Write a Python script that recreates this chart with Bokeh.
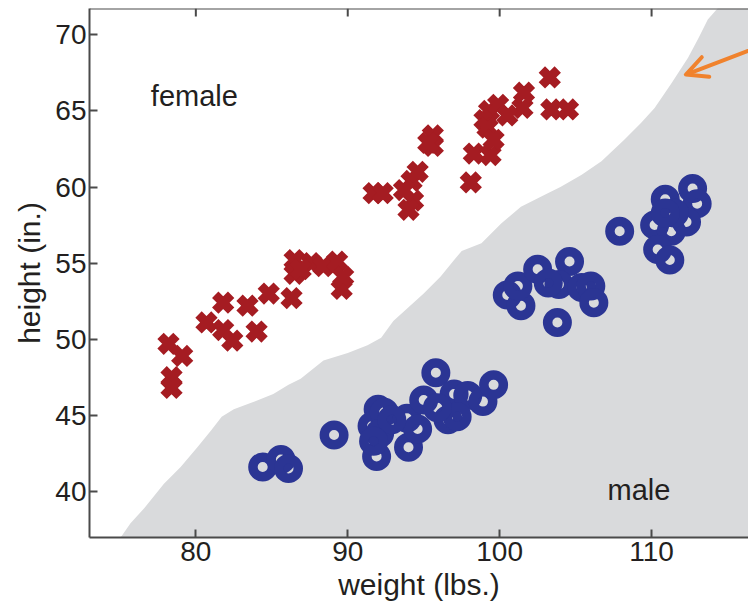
from bokeh.plotting import figure
from bokeh.models import FixedTicker, Label, Arrow, OpenHead, Span
from bokeh.embed import file_html
from bokeh.resources import INLINE

# ---- data ----
female_weight = [78.2, 79.1, 78.4, 78.4,
                 80.7, 81.8, 81.8, 82.4, 83.4, 84.0, 84.8, 86.3, 86.5, 86.5,
                 87.6, 86.9, 88.4, 89.3, 89.6, 89.7,
                 91.7, 92.3, 94.2, 94.3, 94.0, 94.6, 93.7, 95.6, 95.6, 95.3,
                 98.1, 98.3, 99.4, 99.0, 99.3, 99.9, 101.5, 100.5, 99.2,
                 101.6, 103.3, 103.4, 104.5, 99.6]
female_height = [49.7, 48.9, 47.5, 46.8,
                 51.1, 52.4, 50.6, 49.9, 52.2, 50.5, 53.0, 52.7, 55.2, 54.3,
                 55.0, 54.6, 54.8, 55.1, 53.3, 54.1,
                 59.6, 59.6, 60.4, 59.1, 58.5, 61.0, 59.8, 63.4, 62.7, 62.9,
                 60.3, 62.2, 62.1, 64.4, 65.0, 65.4, 65.2, 64.7, 63.9,
                 66.2, 67.2, 65.1, 65.1, 63.1]

male_weight = [84.4, 85.6, 86.1, 89.1, 91.9, 92.0, 91.6, 92.4, 92.1, 94.0,
               93.9, 94.6, 95.0, 95.8, 96.6, 97.0, 97.9, 98.9, 99.6, 97.2,
               95.9, 92.9, 91.7,
               100.5, 101.4, 101.2, 102.5, 104.6, 103.9, 105.4, 106.0, 106.2,
               103.8, 103.2, 107.9, 110.2, 110.9, 111.3, 110.4, 111.2, 112.7,
               113.0, 112.3, 111.5, 110.9]
male_height = [41.6, 42.1, 41.5, 43.7, 42.3, 45.4, 44.3, 45.2, 43.8, 42.9,
               44.8, 44.1, 46.0, 47.8, 44.7, 46.4, 46.3, 45.9, 47.0, 44.9,
               45.5, 44.7, 43.3,
               52.9, 52.2, 53.5, 54.6, 55.1, 53.6, 53.4, 53.5, 52.4,
               51.1, 53.7, 57.1, 57.5, 59.2, 57.1, 55.9, 55.2, 59.9,
               58.9, 57.7, 58.3, 58.3]

boundary_weight = [75.0, 75.7, 76.6, 77.9, 79.0, 80.1, 81.0, 81.7, 82.5, 83.6,
                   85.1, 86.1, 86.9, 88.4, 90.0, 91.3, 92.2, 93.0, 94.0, 95.0,
                   96.1, 97.0, 97.5, 98.8, 100.1, 101.4, 103.2, 104.0, 105.4,
                   106.7, 108.2, 109.3, 110.2, 111.3, 112.4, 113.1, 113.7, 114.4]
boundary_height = [36.9, 37.9, 38.9, 40.5, 41.6, 42.9, 44.0, 44.9, 45.4, 45.8,
                   46.4, 47.0, 47.4, 48.6, 49.1, 49.6, 50.1, 51.2, 52.1, 53.0,
                   54.1, 55.2, 55.8, 56.3, 57.6, 58.7, 59.6, 60.0, 60.8,
                   61.7, 63.1, 64.2, 65.2, 66.8, 68.5, 69.8, 71.0, 71.8]

x_ticks = [80, 90, 100, 110]
y_ticks = [40, 45, 50, 55, 60, 65, 70]
x_limits = (73.0, 116.38)
y_limits = (36.97, 71.73)

FONT = "Liberation Sans"
AXIS_COLOR = "#4a4a4a"
TEXT_COLOR = "#231f20"
FRAME_H = 529
PX_PER_Y = FRAME_H / (y_limits[1] - y_limits[0])

p = figure(frame_width=659, frame_height=FRAME_H,
           x_range=x_limits, y_range=y_limits,
           output_backend="svg", toolbar_location=None,
           min_border_left=89, min_border_top=8, min_border_right=0,
           min_border_bottom=0)
p.outline_line_color = None
p.grid.visible = False
p.background_fill_color = "white"

# gray region (male side of the decision boundary)
gx = boundary_weight + [x_limits[1] + 5, x_limits[1] + 5]
gy = boundary_height + [y_limits[1] + 1, y_limits[0] - 1]
p.patch(gx, gy, fill_color="#d9dadc", line_color=None)

# female: thick x markers
p.scatter(female_weight, female_height, marker="x", size=22.5,
          line_color="#a51c22", line_width=9)
# male: thick hollow circles
p.scatter(male_weight, male_height, marker="circle", size=19.5,
          fill_color=None, line_color="#2b3594", line_width=9.5)

def style_axis(ax, ticks):
    ax.ticker = FixedTicker(ticks=ticks)
    ax.minor_tick_line_color = None
    ax.major_tick_in = 8
    ax.major_tick_out = 0
    ax.axis_line_width = 2
    ax.axis_line_color = AXIS_COLOR
    ax.major_tick_line_width = 2
    ax.major_tick_line_color = AXIS_COLOR
    ax.major_label_text_font = FONT
    ax.major_label_text_font_size = "28px"
    ax.major_label_text_color = TEXT_COLOR
    ax.axis_label_text_font = FONT
    ax.axis_label_text_font_size = "30px"
    ax.axis_label_text_font_style = "normal"
    ax.axis_label_text_color = TEXT_COLOR

style_axis(p.xaxis[0], x_ticks)
style_axis(p.yaxis[0], y_ticks)
p.xaxis[0].axis_label = "weight (lbs.)"
p.yaxis[0].axis_label = "height (in.)"
p.xaxis[0].major_label_standoff = 4
p.xaxis[0].axis_label_standoff = 4
p.yaxis[0].major_label_standoff = 3
p.yaxis[0].axis_label_standoff = 6

# top border of the frame with inward ticks (8 px long)
p.add_layout(Span(location=y_limits[1], dimension="width",
                  line_color=AXIS_COLOR, line_width=2))
tick_len = 8 / PX_PER_Y
p.segment(x0=x_ticks, y0=[y_limits[1]] * len(x_ticks),
          x1=x_ticks, y1=[y_limits[1] - tick_len] * len(x_ticks),
          line_color=AXIS_COLOR, line_width=2)

p.add_layout(Label(x=77.04, y=65.95, text="female", text_font=FONT,
                   text_font_size="29px", text_color=TEXT_COLOR,
                   text_align="left", text_baseline="alphabetic"))
p.add_layout(Label(x=107.1, y=40.06, text="male", text_font=FONT,
                   text_font_size="29px", text_color=TEXT_COLOR,
                   text_align="left", text_baseline="alphabetic"))

p.add_layout(Arrow(x_start=117.52, y_start=69.40, x_end=112.26, y_end=67.39,
                   line_color="#f0822d", line_width=4, line_cap="round",
                   end=OpenHead(size=21, line_color="#f0822d", line_width=4,
                                line_cap="round", line_join="round")))

open("out.html", "w").write(file_html(p, INLINE))
